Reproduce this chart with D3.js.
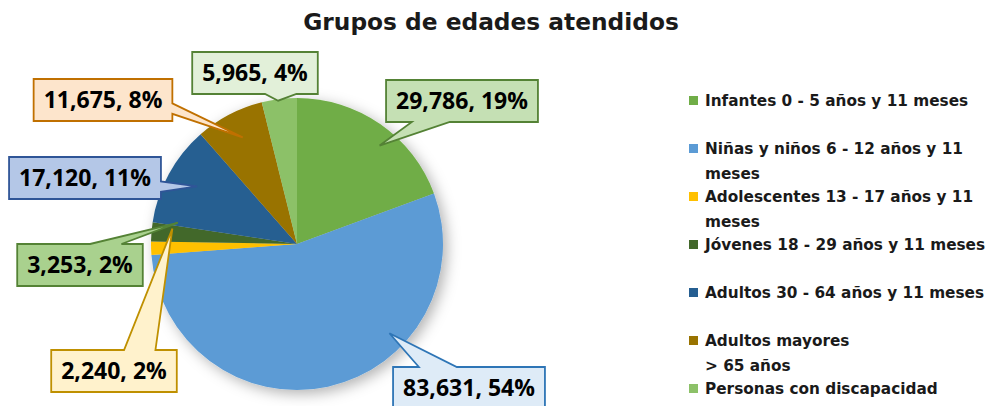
<!DOCTYPE html>
<html>
<head>
<meta charset="utf-8">
<script src="https://cdn.jsdelivr.net/npm/d3@7"></script>
<style>
body{margin:0;background:#fff;}
svg{display:block;font-family:'Open Sans',Lato,sans-serif;}
</style>
</head>
<body>
<div id="canvas"></div>
<script>
// data
var categories = ['Infantes 0 - 5 años y 11 meses','Niñas y niños 6 - 12 años y 11 meses','Adolescentes 13 - 17 años y 11 meses',
    'Jóvenes 18 - 29 años y 11 meses','Adultos 30 - 64 años y 11 meses','Adultos mayores > 65 años','Personas con discapacidad'];
var legendLabels = ['Infantes 0 - 5 años y 11 meses','Niñas y niños 6 - 12 años y 11\nmeses','Adolescentes 13 - 17 años y 11\nmeses',
    'Jóvenes 18 - 29 años y 11 meses','Adultos 30 - 64 años y 11 meses','Adultos mayores\n> 65 años','Personas con discapacidad'];
var values = [29786, 83631, 2240, 3253, 17120, 11675, 5965];
var percents = [19, 54, 2, 2, 11, 8, 4];

var colors = ['#70ad47','#5b9bd5','#ffc000','#43682b','#255e91','#997300','#8cc168'];
var calloutFill = ['#c5e0b4','#deebf7','#fff2cc','#a9d18e','#b4c7e7','#fde5cc','#e2f0d9'];
var calloutStroke = ['#548235','#2e75b6','#bf9000','#548235','#2f5597','#c07000','#548235'];

// callout placement (box centre, pointer tip as angle in degrees / fraction of radius)
var boxCenter = [[462,101],[469,388],[114,371],[80,265],[85,178],[103,100],[255,73]];
var tipPolar = [[40,.88],[134,.88],[277,.86],[280,.83],[300,.79],[333,.82],[352.5,.99]];

var W = 989, H = 406;
var svg = d3.select('#canvas').append('svg').attr('width',W).attr('height',H);

var defs = svg.append('defs');
var f = defs.append('filter').attr('id','shadow').attr('x','-20%').attr('y','-20%').attr('width','150%').attr('height','150%');
f.append('feDropShadow').attr('dx',4).attr('dy',4).attr('stdDeviation',7)
    .attr('flood-color','#000').attr('flood-opacity',0.3);

svg.append('text')
    .attr('x',491).attr('y',30)
    .attr('text-anchor','middle')
    .style('font-family','"DejaVu Sans"')
    .style('font-size','23.3px').style('font-weight','bold').style('fill','#1a1a1a')
    .text('Grupos de edades atendidos');

var cx = 297, cy = 244, r = 146;
var pie = d3.pie().sort(null).value(function(d){return d;});
var arcs = pie(values);
var arc = d3.arc().innerRadius(0).outerRadius(r);

var plot = svg.append('g').attr('transform','translate('+cx+','+cy+')');
plot.append('g').attr('filter','url(#shadow)')
    .selectAll('path').data(arcs).enter().append('path')
    .attr('d',arc)
    .attr('fill',function(d,i){return colors[i];});

//callouts
function calloutPath(x0,y0,w,h,tx,ty){
    var mx = x0+w/2, my = y0+h/2;
    var nx = (tx-mx)/(w/2), ny = (ty-my)/(h/2);
    var p;
    if(Math.abs(ny) > Math.abs(nx)){
        var fr = tx < mx ? [0.17,0.42] : [0.58,0.83];
        if(ny < 0){
            p = [[x0,y0],[x0+fr[0]*w,y0],[tx,ty],[x0+fr[1]*w,y0],[x0+w,y0],[x0+w,y0+h],[x0,y0+h]];
        } else {
            p = [[x0,y0],[x0+w,y0],[x0+w,y0+h],[x0+fr[1]*w,y0+h],[tx,ty],[x0+fr[0]*w,y0+h],[x0,y0+h]];
        }
    } else {
        var fr2 = ty < my ? [0.17,0.42] : [0.58,0.83];
        if(nx > 0){
            p = [[x0,y0],[x0+w,y0],[x0+w,y0+fr2[0]*h],[tx,ty],[x0+w,y0+fr2[1]*h],[x0+w,y0+h],[x0,y0+h]];
        } else {
            p = [[x0,y0],[x0+w,y0],[x0+w,y0+h],[x0,y0+h],[x0,y0+fr2[1]*h],[tx,ty],[x0,y0+fr2[0]*h]];
        }
    }
    return 'M'+p.map(function(q){return q[0]+','+q[1];}).join('L')+'Z';
}

var fmt = d3.format(',');
var callouts = svg.append('g');
arcs.forEach(function(d,i){
    var g = callouts.append('g');
    var path = g.append('path');
    var t = g.append('text')
        .attr('x',boxCenter[i][0]).attr('y',boxCenter[i][1]+8)
        .attr('text-anchor','middle')
        .style('font-size','23px').style('font-weight','bold').style('fill','#000')
        .text(fmt(values[i])+', '+percents[i]+'%');
    var tw = t.node().getComputedTextLength();
    var w = tw+20, h = 42;
    var a = tipPolar[i][0]*Math.PI/180, rr = tipPolar[i][1]*r;
    var tx = cx + rr*Math.sin(a), ty = cy - rr*Math.cos(a);
    path.attr('d',calloutPath(boxCenter[i][0]-w/2, boxCenter[i][1]-h/2, w, h, tx, ty))
        .attr('fill',calloutFill[i])
        .attr('stroke',calloutStroke[i])
        .attr('stroke-width',1.8)
        .attr('stroke-linejoin','miter');
});

//legend
var legend = svg.append('g').attr('transform','translate(689,0)');
var legendY = d3.scaleLinear().domain([0,6]).range([100,388]);
var items = legend.selectAll('.item').data(legendLabels).enter().append('g')
    .attr('class','item')
    .attr('transform',function(d,i){return 'translate(0,'+legendY(i)+')';});
items.append('rect')
    .attr('x',0).attr('y',-4).attr('width',9).attr('height',9)
    .attr('fill',function(d,i){return colors[i];});
items.append('text')
    .style('font-family','"DejaVu Sans"')
    .style('font-size','15.3px').style('font-weight','bold').style('fill','#1a1a1a')
    .each(function(d){
        var lines = d.split('\n');
        var el = d3.select(this);
        lines.forEach(function(l,j){
            el.append('tspan').attr('x',16).attr('y',6+j*25).text(l);
        });
    });
</script>
</body>
</html>
